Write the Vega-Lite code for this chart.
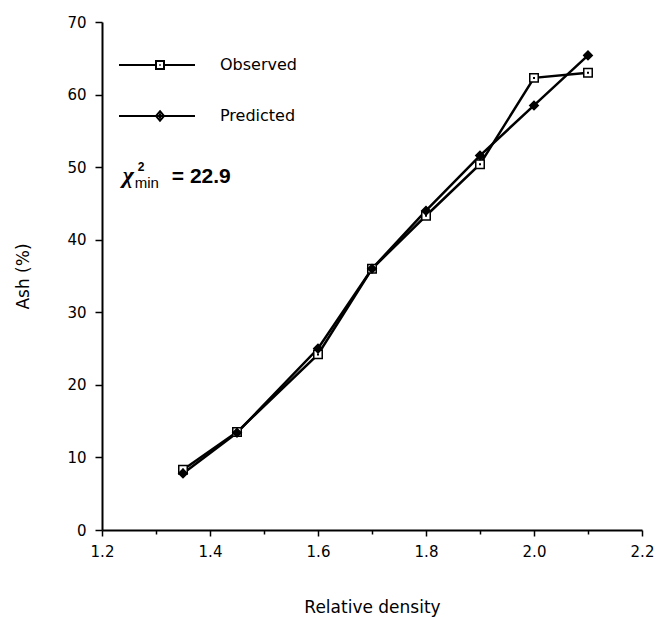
{
  "$schema": "https://vega.github.io/schema/vega-lite/v6.json",
  "width": 540,
  "height": 508,
  "autosize": {"type": "none"},
  "padding": {"left": 102, "top": 22, "right": 15, "bottom": 87},
  "background": "white",
  "config": {"view": {"stroke": null}, "font": "DejaVu Sans"},
  "data": {
    "values": [
      {"series": "Observed", "density": 1.35, "ash": 8.3},
      {"series": "Observed", "density": 1.45, "ash": 13.5},
      {"series": "Observed", "density": 1.6, "ash": 24.2},
      {"series": "Observed", "density": 1.7, "ash": 36.0},
      {"series": "Observed", "density": 1.8, "ash": 43.3},
      {"series": "Observed", "density": 1.9, "ash": 50.4},
      {"series": "Observed", "density": 2.0, "ash": 62.3},
      {"series": "Observed", "density": 2.1, "ash": 63.0},
      {"series": "Predicted", "density": 1.35, "ash": 7.8},
      {"series": "Predicted", "density": 1.45, "ash": 13.4},
      {"series": "Predicted", "density": 1.6, "ash": 25.0},
      {"series": "Predicted", "density": 1.7, "ash": 36.0},
      {"series": "Predicted", "density": 1.8, "ash": 44.0},
      {"series": "Predicted", "density": 1.9, "ash": 51.6},
      {"series": "Predicted", "density": 2.0, "ash": 58.5},
      {"series": "Predicted", "density": 2.1, "ash": 65.4}
    ]
  },
  "resolve": {"scale": {"shape": "independent"}, "legend": {"shape": "independent"}},
  "layer": [
    {
      "mark": {"type": "line", "color": "black", "strokeWidth": 2.5},
      "encoding": {
        "x": {
          "field": "density",
          "type": "quantitative",
          "scale": {"domain": [1.2, 2.2], "nice": false, "zero": false},
          "axis": {
            "values": [1.2, 1.3, 1.4, 1.5, 1.6, 1.7, 1.8, 1.9, 2.0, 2.1, 2.2],
            "labelExpr": "round(datum.value*10) % 2 === 0 ? format(datum.value, '.1f') : ''",
            "tickSize": {"condition": {"test": "round(datum.value*10) % 2 === 0", "value": 6}, "value": 4},
            "grid": false,
            "domainColor": "black",
            "domainWidth": 2,
            "tickColor": "black",
            "tickWidth": 1.5,
            "labelFontSize": 15,
            "labelColor": "black",
            "labelPadding": 8,
            "labelFlush": false,
            "labelOverlap": false,
            "title": "Relative density",
            "titleFontSize": 17,
            "titleFontWeight": "normal",
            "titleColor": "black",
            "titlePadding": 40
          }
        },
        "y": {
          "field": "ash",
          "type": "quantitative",
          "scale": {"domain": [0, 70], "nice": false},
          "axis": {
            "values": [0, 5, 10, 15, 20, 25, 30, 35, 40, 45, 50, 55, 60, 65, 70],
            "labelExpr": "datum.value % 10 === 0 ? datum.value : ''",
            "tickSize": {"condition": {"test": "datum.value % 10 === 0", "value": 7}, "value": 4},
            "grid": false,
            "domainColor": "black",
            "domainWidth": 2,
            "tickColor": "black",
            "tickWidth": 1.5,
            "labelFontSize": 15,
            "labelColor": "black",
            "labelPadding": 9,
            "labelFlush": false,
            "labelOverlap": false,
            "title": "Ash (%)",
            "titleFontSize": 17,
            "titleFontWeight": "normal",
            "titleColor": "black",
            "titlePadding": 34
          }
        },
        "detail": {"field": "series"}
      }
    },
    {
      "mark": {"type": "point", "filled": true, "stroke": "black", "strokeWidth": 1.5, "opacity": 1, "size": 72},
      "encoding": {
        "x": {"field": "density", "type": "quantitative"},
        "y": {"field": "ash", "type": "quantitative"},
        "shape": {
          "field": "series",
          "type": "nominal",
          "scale": {"domain": ["Observed", "Predicted"], "range": ["square", "diamond"]},
          "legend": null
        },
        "fill": {
          "field": "series",
          "type": "nominal",
          "scale": {"domain": ["Observed", "Predicted"], "range": ["white", "black"]},
          "legend": null
        }
      }
    },
    {
      "transform": [{"filter": "datum.series === 'Observed'"}],
      "mark": {"type": "point", "shape": "square", "filled": true, "color": "black", "size": 4, "opacity": 1},
      "encoding": {
        "x": {"field": "density", "type": "quantitative"},
        "y": {"field": "ash", "type": "quantitative"}
      }
    },
    {
      "transform": [{"filter": "false"}],
      "mark": {"type": "point", "filled": false, "color": "black", "strokeWidth": 2, "opacity": 1},
      "encoding": {
        "x": {"field": "density", "type": "quantitative"},
        "y": {"field": "ash", "type": "quantitative"},
        "shape": {
          "field": "series",
          "type": "nominal",
          "scale": {
            "domain": ["Observed", "Predicted"],
            "range": [
              "M-10.25,0H-1M1,0H8.75M-1,-1H1V1H-1ZM-0.15,0H0.15",
              "M-10.25,0H8.75M0,-1.2L1,0L0,1.2L-1,0ZM-0.55,0H0.55M0,-0.6V0.6"
            ]
          },
          "legend": {
            "orient": "none",
            "legendX": 50,
            "legendY": 35,
            "title": null,
            "padding": 0,
            "symbolSize": 64,
            "symbolStrokeWidth": 2,
            "symbolStrokeColor": "black",
            "symbolOpacity": 1,
            "labelFontSize": 16,
            "labelColor": "black",
            "labelOffset": 52,
            "rowPadding": 34
          }
        }
      }
    },
    {
      "data": {"values": [{"label": "chi"}]},
      "mark": {"type": "text", "text": "χ", "font": "Liberation Serif", "fontStyle": "italic", "fontWeight": "bold", "fontSize": 24, "align": "left", "baseline": "alphabetic", "color": "black"},
      "encoding": {"x": {"datum": 1.2385}, "y": {"datum": 47.8}}
    },
    {
      "data": {"values": [{"label": "sup"}]},
      "mark": {"type": "text", "text": "2", "font": "Liberation Sans", "fontWeight": "bold", "fontSize": 12, "align": "left", "baseline": "alphabetic", "dx": 15, "dy": -12, "color": "black"},
      "encoding": {"x": {"datum": 1.2385}, "y": {"datum": 47.8}}
    },
    {
      "data": {"values": [{"label": "sub"}]},
      "mark": {"type": "text", "text": "min", "font": "Liberation Sans", "fontSize": 15, "align": "left", "baseline": "alphabetic", "dx": 12, "dy": 5, "color": "black"},
      "encoding": {"x": {"datum": 1.2385}, "y": {"datum": 47.8}}
    },
    {
      "data": {"values": [{"label": "value"}]},
      "mark": {"type": "text", "text": "= 22.9", "font": "Liberation Sans", "fontWeight": "bold", "fontSize": 21, "align": "left", "baseline": "alphabetic", "dx": 49, "color": "black"},
      "encoding": {"x": {"datum": 1.2385}, "y": {"datum": 47.8}}
    }
  ]
}
